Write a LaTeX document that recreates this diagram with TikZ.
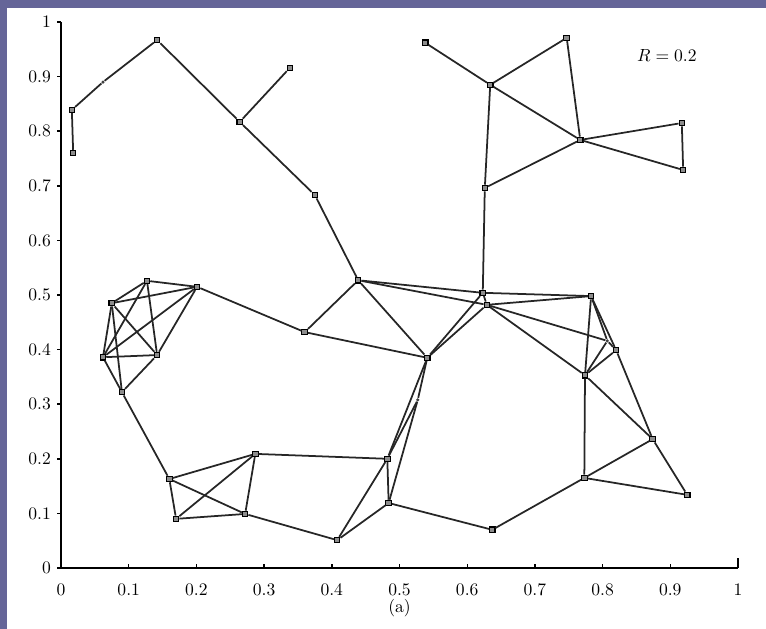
\documentclass[tikz,border=0pt]{standalone}
\usepackage{amsmath}
\definecolor{framebar}{RGB}{101,101,152}

\begin{document}
\begin{tikzpicture}[
    x=13.54cm, y=10.92cm,
    vertex/.style={
        rectangle,
        draw,
        fill=black!45,
        line width=0.6pt,
        inner sep=0pt,
        minimum size=0.11cm
    },
    dot/.style={circle, fill=black!75, inner sep=0pt, minimum size=0.07cm},
    edge/.style={line width=1pt, black!85},
    axis/.style={line width=0.8pt},
    lbl/.style={font=\normalsize, inner sep=1pt}
]

% page and frame bars
\useasboundingbox (-1.22cm,-1.22cm) rectangle (14.1cm,11.36cm);
\fill[framebar] (-1.22cm,11.20cm) rectangle (14.1cm,11.36cm);
\fill[framebar] (-1.22cm,-1.22cm) rectangle (-1.08cm,11.36cm);

% axes
\draw[axis] (0,1) -- (0,0) -- (1,0);
\foreach \t in {0,0.1,0.2,0.3,0.4,0.5,0.6,0.7,0.8,0.9,1} {
    \draw[axis] (0,\t) -- ++(-0.08cm,0);
    \draw[axis] (\t,0) -- ++(0,0.08cm);
    \node[lbl, anchor=east] at ([xshift=-0.16cm]0,\t) {\t};
    \node[lbl] at ([yshift=-0.44cm]\t,0) {\t};
}
\draw[axis] (1,0) -- ++(0,0.2cm);
\node[lbl] (cap) at ([yshift=-0.8cm]0.5,0) {(a)};
\node[lbl] (rlab) at (0.895,0.938) {$R=0.2$};

% top left chain
\node[vertex] (a) at (0.016,0.839) {};
\node[vertex] (b) at (0.018,0.760) {};
\node[dot] (ac) at (0.062,0.890) {};
\node[vertex] (c) at (0.142,0.967) {};
\node[vertex] (d) at (0.264,0.817) {};
\node[vertex] (e) at (0.338,0.916) {};
\node[vertex] (f) at (0.375,0.683) {};
\node[vertex] (g) at (0.439,0.527) {};
\node[vertex] (h) at (0.360,0.432) {};
\node[vertex] (i) at (0.541,0.385) {};
\node[dot] (u) at (0.527,0.308) {};

% top right group
\node[vertex] (j) at (0.623,0.504) {};
\node[vertex] (k) at (0.629,0.482) {};
\node[vertex] (l) at (0.626,0.696) {};
\node[vertex] (m) at (0.538,0.962) {};
\node[vertex] (n) at (0.634,0.885) {};
\node[vertex] (o) at (0.747,0.971) {};
\node[vertex] (p) at (0.767,0.784) {};
\node[vertex] (q) at (0.917,0.815) {};
\node[vertex] (r) at (0.919,0.729) {};

% right group
\node[vertex] (aa) at (0.783,0.498) {};
\node[dot] (z1) at (0.807,0.416) {};
\node[vertex] (z2) at (0.820,0.399) {};
\node[vertex] (x) at (0.774,0.353) {};
\node[vertex] (y) at (0.874,0.236) {};
\node[vertex] (w) at (0.773,0.165) {};
\node[vertex] (bb) at (0.925,0.134) {};
\node[vertex] (v) at (0.637,0.070) {};

% left cluster
\node[vertex] (s1) at (0.127,0.526) {};
\node[vertex] (s2) at (0.201,0.515) {};
\node[vertex] (s3) at (0.075,0.485) {};
\node[vertex] (s4) at (0.062,0.386) {};
\node[vertex] (s5) at (0.142,0.390) {};
\node[vertex] (s6) at (0.090,0.322) {};

% bottom cluster
\node[vertex] (t1) at (0.160,0.163) {};
\node[vertex] (t2) at (0.287,0.209) {};
\node[vertex] (t3) at (0.170,0.090) {};
\node[vertex] (t4) at (0.272,0.099) {};
\node[vertex] (t5) at (0.408,0.051) {};
\node[vertex] (t6) at (0.482,0.200) {};
\node[vertex] (t7) at (0.484,0.119) {};

\draw[edge] (a) -- (b);
\draw[edge] (a) -- (ac);
\draw[edge] (ac) -- (c);
\draw[edge] (c) -- (d);
\draw[edge] (d) -- (e);
\draw[edge] (d) -- (f);
\draw[edge] (f) -- (g);
\draw[edge] (g) -- (h);
\draw[edge] (g) -- (i);
\draw[edge] (g) -- (j);
\draw[edge] (g) -- (k);
\draw[edge] (h) -- (i);
\draw[edge] (h) -- (s2);
\draw[edge] (i) -- (u);
\draw[edge] (i) -- (t6);
\draw[edge] (u) -- (t6);
\draw[edge] (u) -- (t7);
\draw[edge] (i) -- (j);
\draw[edge] (i) -- (k);
\draw[edge] (j) -- (k);
\draw[edge] (j) -- (l);
\draw[edge] (j) -- (aa);
\draw[edge] (k) -- (aa);
\draw[edge] (k) -- (z1);
\draw[edge] (k) -- (x);

\draw[edge] (l) -- (n);
\draw[edge] (l) -- (p);
\draw[edge] (m) -- (n);
\draw[edge] (n) -- (o);
\draw[edge] (n) -- (p);
\draw[edge] (o) -- (p);
\draw[edge] (p) -- (q);
\draw[edge] (p) -- (r);
\draw[edge] (q) -- (r);

\draw[edge] (aa) -- (x);
\draw[edge] (aa) -- (z1);
\draw[edge] (aa) -- (z2);
\draw[edge] (x) -- (z1);
\draw[edge] (x) -- (z2);
\draw[edge] (z1) -- (z2);
\draw[edge] (z2) -- (y);
\draw[edge] (x) -- (y);
\draw[edge] (x) -- (w);
\draw[edge] (w) -- (y);
\draw[edge] (w) -- (bb);
\draw[edge] (y) -- (bb);
\draw[edge] (w) -- (v);
\draw[edge] (v) -- (t7);

\draw[edge] (s1) -- (s2);
\draw[edge] (s1) -- (s3);
\draw[edge] (s1) -- (s4);
\draw[edge] (s1) -- (s5);
\draw[edge] (s2) -- (s3);
\draw[edge] (s2) -- (s4);
\draw[edge] (s2) -- (s5);
\draw[edge] (s3) -- (s4);
\draw[edge] (s3) -- (s5);
\draw[edge] (s3) -- (s6);
\draw[edge] (s4) -- (s5);
\draw[edge] (s4) -- (s6);
\draw[edge] (s5) -- (s6);
\draw[edge] (s6) -- (t1);

\draw[edge] (t1) -- (t2);
\draw[edge] (t1) -- (t3);
\draw[edge] (t1) -- (t4);
\draw[edge] (t2) -- (t3);
\draw[edge] (t2) -- (t4);
\draw[edge] (t3) -- (t4);
\draw[edge] (t4) -- (t5);
\draw[edge] (t2) -- (t6);
\draw[edge] (t5) -- (t6);
\draw[edge] (t5) -- (t7);
\draw[edge] (t6) -- (t7);

\end{tikzpicture}
\end{document}
